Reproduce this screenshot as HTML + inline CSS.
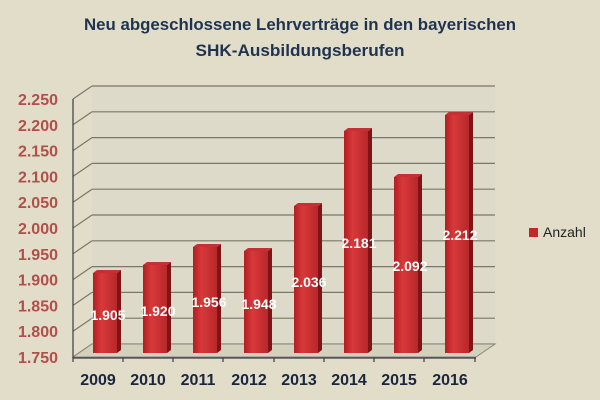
<!DOCTYPE html>
<html><head><meta charset="utf-8"><style>
html,body{margin:0;padding:0;background:#E1DDC9;}
svg{display:block;font-family:"Liberation Sans",Arial,sans-serif;}
</style></head><body>
<svg width="600" height="400" viewBox="0 0 600 400" xmlns="http://www.w3.org/2000/svg">
<defs>
<linearGradient id="bf" x1="0" x2="1" y1="0" y2="0">
<stop offset="0" stop-color="#B21E22"/><stop offset="0.35" stop-color="#D8393A"/><stop offset="1" stop-color="#B8272A"/>
</linearGradient>
</defs>
<rect width="600" height="400" fill="#E1DDC9"/>
<text x="300" y="30" text-anchor="middle" font-family="Liberation Sans, sans-serif" font-weight="bold" font-size="17" fill="#1F3350" textLength="432" lengthAdjust="spacingAndGlyphs">Neu abgeschlossene Lehrverträge in den bayerischen</text>
<text x="300" y="56" text-anchor="middle" font-weight="bold" font-size="17" fill="#1F3350" textLength="209" lengthAdjust="spacingAndGlyphs">SHK-Ausbildungsberufen</text>
<!-- back wall -->
<rect x="92" y="86" width="403" height="258" fill="#DEDACA"/>
<g stroke="#7A776A" stroke-width="1.2" fill="none" id="grid"></g>
<g stroke="#7A776A" stroke-width="1.2" fill="none">
<path d="M92,86H495M73,99L92,86"/>
<path d="M92,111.8H495M73,124.8L92,111.8"/>
<path d="M92,137.6H495M73,150.6L92,137.6"/>
<path d="M92,163.4H495M73,176.4L92,163.4"/>
<path d="M92,189.2H495M73,202.2L92,189.2"/>
<path d="M92,215H495M73,228L92,215"/>
<path d="M92,240.8H495M73,253.8L92,240.8"/>
<path d="M92,266.6H495M73,279.6L92,266.6"/>
<path d="M92,292.4H495M73,305.4L92,292.4"/>
<path d="M92,318.2H495M73,331.2L92,318.2"/>
<path d="M92,344H495M73,357L92,344"/>
</g>
<!-- floor -->
<polygon points="73,357 92,344 495,344 476,357" fill="#D4D0BE" stroke="#8A877A" stroke-width="1"/>
<line x1="73" y1="99" x2="73" y2="358" stroke="#3A3A4A" stroke-width="1.2"/>
<line x1="73" y1="358" x2="476" y2="358" stroke="#3A3A4A" stroke-width="1.2"/>
<g stroke="#3A3A4A" stroke-width="1.2">
<line x1="73" y1="358" x2="73" y2="362"/><line x1="123" y1="358" x2="123" y2="362"/><line x1="173" y1="358" x2="173" y2="362"/><line x1="223" y1="358" x2="223" y2="362"/><line x1="274" y1="358" x2="274" y2="362"/><line x1="324" y1="358" x2="324" y2="362"/><line x1="374" y1="358" x2="374" y2="362"/><line x1="424" y1="358" x2="424" y2="362"/><line x1="475" y1="358" x2="475" y2="362"/>
</g>
<!-- y labels -->
<g font-weight="bold" font-size="16" fill="#B24E4B" text-anchor="end">
<text x="58" y="105">2.250</text><text x="58" y="130.8">2.200</text><text x="58" y="156.6">2.150</text><text x="58" y="182.4">2.100</text><text x="58" y="208.2">2.050</text><text x="58" y="234">2.000</text><text x="58" y="259.8">1.950</text><text x="58" y="285.6">1.900</text><text x="58" y="311.4">1.850</text><text x="58" y="337.2">1.800</text><text x="58" y="363">1.750</text>
</g>
<!-- bars -->
<g id="bars"></g>
<g>
<!-- each bar: x, top -->
<g><polygon points="117,273 121,270 121,350 117,353" fill="#7E1416"/><polygon points="93,273 97,270 121,270 117,273" fill="#C43033"/><rect x="93" y="273" width="24" height="80" fill="url(#bf)"/></g>
<g><polygon points="167,265 171,262 171,350 167,353" fill="#7E1416"/><polygon points="143,265 147,262 171,262 167,265" fill="#C43033"/><rect x="143" y="265" width="24" height="88" fill="url(#bf)"/></g>
<g><polygon points="217,247 221,244 221,350 217,353" fill="#7E1416"/><polygon points="193,247 197,244 221,244 217,247" fill="#C43033"/><rect x="193" y="247" width="24" height="106" fill="url(#bf)"/></g>
<g><polygon points="268,251 272,248 272,350 268,353" fill="#7E1416"/><polygon points="244,251 248,248 272,248 268,251" fill="#C43033"/><rect x="244" y="251" width="24" height="102" fill="url(#bf)"/></g>
<g><polygon points="318,206 322,203 322,350 318,353" fill="#7E1416"/><polygon points="294,206 298,203 322,203 318,206" fill="#C43033"/><rect x="294" y="206" width="24" height="147" fill="url(#bf)"/></g>
<g><polygon points="368,131 372,128 372,350 368,353" fill="#7E1416"/><polygon points="344,131 348,128 372,128 368,131" fill="#C43033"/><rect x="344" y="131" width="24" height="222" fill="url(#bf)"/></g>
<g><polygon points="418,177 422,174 422,350 418,353" fill="#7E1416"/><polygon points="394,177 398,174 422,174 418,177" fill="#C43033"/><rect x="394" y="177" width="24" height="176" fill="url(#bf)"/></g>
<g><polygon points="469,115 473,112 473,350 469,353" fill="#7E1416"/><polygon points="445,115 449,112 473,112 469,115" fill="#C43033"/><rect x="445" y="115" width="24" height="238" fill="url(#bf)"/></g>
</g>
<!-- value labels -->
<g font-weight="bold" font-size="14" fill="#FFFFFF" text-anchor="middle">
<text x="108" y="320">1.905</text><text x="158" y="316">1.920</text><text x="209" y="307">1.956</text><text x="259" y="309">1.948</text><text x="309" y="287">2.036</text><text x="359" y="248">2.181</text><text x="410" y="271">2.092</text><text x="460" y="240">2.212</text>
</g>
<!-- x labels -->
<g font-weight="bold" font-size="16" fill="#1A2540" text-anchor="middle">
<text x="98" y="385">2009</text><text x="148" y="385">2010</text><text x="198" y="385">2011</text><text x="249" y="385">2012</text><text x="299" y="385">2013</text><text x="349" y="385">2014</text><text x="399" y="385">2015</text><text x="450" y="385">2016</text>
</g>
<!-- legend -->
<rect x="529" y="228" width="9" height="9" fill="#C0282C"/>
<text x="543" y="237" font-size="14" fill="#222">Anzahl</text>
</svg>
</body></html>
